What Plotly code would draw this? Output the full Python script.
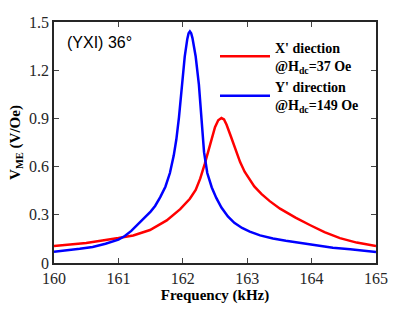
import plotly.graph_objects as go

# Blue: Y' direction @Hdc=149 Oe
freq_y = [160.0, 160.2, 160.4, 160.6, 160.8, 161.0, 161.1, 161.2, 161.3, 161.4, 161.5,
          161.57, 161.65, 161.73, 161.80, 161.86, 161.90, 161.94, 161.98, 162.03, 162.07,
          162.09, 162.11, 162.13, 162.15, 162.20, 162.25, 162.29, 162.33, 162.38, 162.45,
          162.52, 162.60, 162.70, 162.80, 162.92, 163.04, 163.20, 163.40, 163.60, 163.82,
          164.00, 164.33, 164.60, 165.0]
vme_y = [0.070, 0.078, 0.088, 0.100, 0.120, 0.145, 0.168, 0.200, 0.240, 0.275, 0.320,
         0.355, 0.410, 0.475, 0.560, 0.670, 0.770, 0.905, 1.085, 1.285, 1.395,
         1.430, 1.441, 1.430, 1.400, 1.285, 1.110, 0.900, 0.690, 0.560, 0.470,
         0.405, 0.345, 0.290, 0.250, 0.218, 0.195, 0.172, 0.152, 0.138, 0.125,
         0.112, 0.095, 0.085, 0.069]

# Red: X' diection @Hdc=37 Oe
freq_x = [160.0, 160.5, 161.0, 161.23, 161.49, 161.75, 161.96, 162.11, 162.20, 162.27,
          162.34, 162.42, 162.46, 162.50, 162.55, 162.60, 162.64, 162.68, 162.74, 162.80,
          162.89, 162.96, 163.04, 163.11, 163.22, 163.35, 163.51, 163.75, 163.98, 164.20,
          164.44, 164.70, 165.0]
vme_x = [0.105, 0.125, 0.155, 0.171, 0.205, 0.265, 0.335, 0.400, 0.455, 0.525,
         0.615, 0.730, 0.790, 0.845, 0.888, 0.902, 0.893, 0.860, 0.795, 0.725,
         0.628, 0.568, 0.515, 0.477, 0.430, 0.385, 0.338, 0.282, 0.235, 0.192,
         0.155, 0.127, 0.105]

x_ticks = [160, 161, 162, 163, 164, 165]
y_ticks = [0, 0.3, 0.6, 0.9, 1.2, 1.5]
y_ticktext = ["0", "0.3", "0.6", "0.9", "1.2", "1.5"]

serif = "Times New Roman, Liberation Serif, serif"
axcol = "#262626"

fig = go.Figure()
fig.add_trace(go.Scatter(x=freq_x, y=vme_x, mode="lines",
                         line=dict(color="#ff0000", width=2.5),
                         name="X' diection<br>@H<sub>dc</sub>=37 Oe"))
fig.add_trace(go.Scatter(x=freq_y, y=vme_y, mode="lines",
                         line=dict(color="#0000ff", width=2.5),
                         name="Y' direction<br>@H<sub>dc</sub>=149 Oe"))

fig.update_layout(
    width=415, height=312,
    margin=dict(l=54, r=39, t=22, b=40),
    paper_bgcolor="white", plot_bgcolor="white",
    font=dict(family=serif, size=14, color=axcol),
    showlegend=True,
    legend=dict(x=0.50, y=0.96, xanchor="left", yanchor="top",
                bgcolor="rgba(0,0,0,0)", borderwidth=0,
                font=dict(family=serif, size=14, color="black", weight="bold"),
                itemwidth=50, tracegroupgap=5),
    xaxis=dict(range=[160, 165], tickvals=x_ticks, ticks="inside", ticklen=5,
               showline=True, linecolor=axcol, linewidth=1.5, mirror="ticks",
               showgrid=False, zeroline=False,
               tickfont=dict(family=serif, size=16, color=axcol),
               title=dict(text="<b>Frequency (kHz)</b>", standoff=3,
                          font=dict(family=serif, size=15, color="black"))),
    yaxis=dict(range=[0, 1.5], tickvals=y_ticks, ticktext=y_ticktext, ticks="inside", ticklen=5,
               showline=True, linecolor=axcol, linewidth=1.5, mirror="ticks",
               showgrid=False, zeroline=False,
               tickfont=dict(family=serif, size=16, color=axcol),
               title=dict(text="<b>V<sub>ME</sub> (V/Oe)</b>", standoff=5,
                          font=dict(family=serif, size=15, color="black"))),
    annotations=[dict(text="(YXI) 36°", xref="paper", yref="paper", x=0.035, y=0.958,
                      xanchor="left", yanchor="top", showarrow=False,
                      font=dict(family="Liberation Sans, Arial, sans-serif", size=16, color="black"))],
)

fig.write_html("out.html", config={"displayModeBar": False},
               post_script="document.body.style.margin='0px';")
